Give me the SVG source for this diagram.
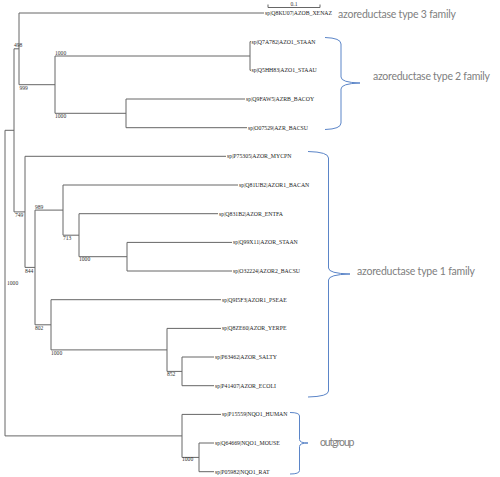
<svg xmlns="http://www.w3.org/2000/svg" width="500" height="477" viewBox="0 0 500 477">
<style>
.br{fill:none;stroke:#666;stroke-width:1}
.leaf{font-family:"Liberation Serif",serif;font-size:5.8px;fill:#222}
.bs{font-family:"Liberation Serif",serif;font-size:5.6px;fill:#333}
.brace{fill:none;stroke:#5b85c8;stroke-width:1}
.fam{font-family:Lato,"Liberation Sans",sans-serif;font-size:10.5px;fill:#808080}
</style>
<rect width="500" height="477" fill="#fff"/>
<g id="connectors" class="br">
<path d="M5,130.3V435.9M5,130.3H14M5,435.9H182"/>
<path d="M14,48.8V211.9M14,48.8H19M14,211.9H25"/>
<path d="M19,13V84.7M19,13H264M19,84.7H55"/>
<path d="M55,56V113.3M55,56H250M55,113.3H126"/>
<path d="M250,41.7V70.3M250,41.7H251M250,70.3H251"/>
<path d="M126,99V127.7M126,99H245M126,127.7H247"/>
<path d="M25,156.3V267.4M25,156.3H226M25,267.4H35"/>
<path d="M35,210.1V324.8M35,210.1H63M35,324.8H51"/>
<path d="M63,185V235.2M63,185H238M63,235.2H79"/>
<path d="M79,213.7V256.7M79,213.7H218M79,256.7H127"/>
<path d="M127,242.4V271M127,242.4H232M127,271H232"/>
<path d="M51,299.7V349.9M51,299.7H221M51,349.9H167"/>
<path d="M167,328.4V371.4M167,328.4H221M167,371.4H182"/>
<path d="M182,357V385.7M182,357H214M182,385.7H214"/>
<path d="M182,414.4V457.4M182,414.4H221M182,457.4H199"/>
<path d="M199,443V471.7M199,443H214M199,471.7H214"/>
</g>
<g id="scale">
<path class="br" d="M268,4.5V7.5H320V4.5"/>
<text class="bs" x="294" y="5.5" text-anchor="middle">0.1</text>
</g>
<g id="bootstrap">
<text class="bs" x="14" y="47">498</text>
<text class="bs" x="55" y="54.5">1000</text>
<text class="bs" x="19.5" y="89.5">999</text>
<text class="bs" x="55" y="117.5">1000</text>
<text class="bs" x="15" y="217">749</text>
<text class="bs" x="35" y="208.5">989</text>
<text class="bs" x="63" y="240">713</text>
<text class="bs" x="79" y="261">1000</text>
<text class="bs" x="25" y="272.5">844</text>
<text class="bs" x="7" y="285">1000</text>
<text class="bs" x="35" y="330">802</text>
<text class="bs" x="51" y="354.5">1000</text>
<text class="bs" x="167" y="376">852</text>
<text class="bs" x="182" y="461">1000</text>
</g>
<g id="leaf-xenaz"><text class="leaf" x="265" y="15">sp|Q8KU07|AZOB_XENAZ</text></g>
<g id="leaf-azo1-staan"><text class="leaf" x="251.5" y="43.7">sp|Q7A782|AZO1_STAAN</text></g>
<g id="leaf-azo1-staau"><text class="leaf" x="251.5" y="72.3">sp|Q5HH83|AZO1_STAAU</text></g>
<g id="leaf-azrb-bacoy"><text class="leaf" x="246" y="101">sp|Q9FAW5|AZRB_BACOY</text></g>
<g id="leaf-azr-bacsu"><text class="leaf" x="248" y="129.7">sp|O07529|AZR_BACSU</text></g>
<g id="leaf-mycpn"><text class="leaf" x="227" y="158.3">sp|P75305|AZOR_MYCPN</text></g>
<g id="leaf-bacan"><text class="leaf" x="239" y="187">sp|Q81UB2|AZOR1_BACAN</text></g>
<g id="leaf-entfa"><text class="leaf" x="219" y="215.7">sp|Q831B2|AZOR_ENTFA</text></g>
<g id="leaf-azor-staan"><text class="leaf" x="233" y="244.4">sp|Q99X11|AZOR_STAAN</text></g>
<g id="leaf-azor2-bacsu"><text class="leaf" x="233" y="273">sp|O32224|AZOR2_BACSU</text></g>
<g id="leaf-pseae"><text class="leaf" x="222" y="301.7">sp|Q9I5F3|AZOR1_PSEAE</text></g>
<g id="leaf-yerpe"><text class="leaf" x="222" y="330.4">sp|Q8ZE60|AZOR_YERPE</text></g>
<g id="leaf-salty"><text class="leaf" x="215" y="359">sp|P63462|AZOR_SALTY</text></g>
<g id="leaf-ecoli"><text class="leaf" x="215" y="387.7">sp|P41407|AZOR_ECOLI</text></g>
<g id="leaf-human"><text class="leaf" x="222" y="416.4">sp|P15559|NQO1_HUMAN</text></g>
<g id="leaf-mouse"><text class="leaf" x="215" y="445">sp|Q64669|NQO1_MOUSE</text></g>
<g id="leaf-rat"><text class="leaf" x="215" y="473.7">sp|P05982|NQO1_RAT</text></g>
<g id="family-type3">
<text class="fam" x="338" y="17.5" textLength="118" lengthAdjust="spacing">azoreductase type 3 family</text>
</g>
<g id="family-type2">
<path class="brace" d="M325,37.5Q341,38 341,44L341,77Q341,82.5 360,83Q341,83.5 341,89L341,123Q341,129 325,129.5"/>
<text class="fam" x="373" y="79.5" textLength="117" lengthAdjust="spacing">azoreductase type 2 family</text>
</g>
<g id="family-type1">
<path class="brace" d="M308,151.5Q328.5,152 328.5,158L328.5,268Q328.5,273.5 350,274Q328.5,274.5 328.5,280L328.5,391Q328.5,396.5 308,397"/>
<text class="fam" x="357" y="274.5" textLength="118" lengthAdjust="spacing">azoreductase type 1 family</text>
</g>
<g id="family-outgroup">
<path class="brace" d="M290,412.5Q299.5,412.5 299.5,416L299.5,439.5Q299.5,443 308,443Q299.5,443 299.5,446.5L299.5,470.5Q299.5,474 290,474"/>
<text class="fam" x="320" y="446" textLength="34.5" lengthAdjust="spacing">outgroup</text>
</g>
</svg>
